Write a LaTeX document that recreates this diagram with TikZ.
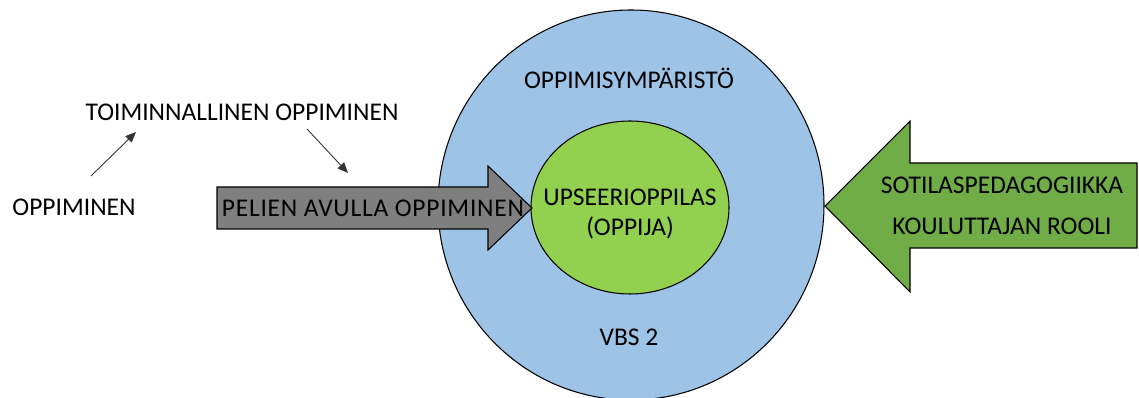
\documentclass[tikz,border=0pt]{standalone}
\usepackage{fontspec}
\setmainfont{Carlito}
\usetikzlibrary{arrows.meta}

\definecolor{envblue}{HTML}{9DC3E6}
\definecolor{learnergreen}{HTML}{92D050}
\definecolor{rolegreen}{HTML}{70AD47}
\definecolor{gamegray}{HTML}{7F7F7F}

\tikzset{
    label/.style={font=\fontsize{14.5}{17}\selectfont, inner sep=0pt},
    shapeline/.style={draw=black, line width=0.6pt},
    thin arrow/.style={draw=black!80, line width=0.5pt, -{Triangle[length=6pt, width=5pt]}}
}

\begin{document}
\begin{tikzpicture}[x=0.02cm, y=-0.02cm]

    \useasboundingbox (0, 0) rectangle (1139, 398);

    % learning environment and learner
    \draw[shapeline, fill=envblue] (631, 205) ellipse (193 and 195);
    \draw[shapeline, fill=learnergreen] (630, 207.5) ellipse (99 and 86.5);

    % block arrows
    \draw[shapeline, fill=gamegray] (217, 187) -- (488, 187) -- (488, 166) -- (532, 208)
        -- (488, 250) -- (488, 229) -- (217, 229) -- cycle;
    \draw[shapeline, fill=rolegreen] (1137, 163) -- (910, 163) -- (910, 121) -- (825, 206)
        -- (910, 292) -- (910, 248) -- (1137, 248) -- cycle;

    \node[label] (env) at (629, 78) {OPPIMISYMPÄRISTÖ};
    \node[label] (vbs) at (629, 337) {VBS 2};
    \node[label] (learner) at (630, 197) {UPSEERIOPPILAS};
    \node[label] (learner2) at (630, 228) {(OPPIJA)};
    \node[label] (games) at (373, 208) {\addfontfeature{LetterSpace=3}PELIEN AVULLA OPPIMINEN};
    \node[label] (pedagogy) at (1002, 185) {SOTILASPEDAGOGIIKKA};
    \node[label] (trainer) at (1002, 226) {KOULUTTAJAN ROOLI};

    \node[label] (learning) at (74, 207) {OPPIMINEN};
    \node[label] (functional) at (242, 112) {TOIMINNALLINEN OPPIMINEN};

    \coordinate (up start) at (91, 176);
    \coordinate (up end) at (136, 132);
    \coordinate (down start) at (307, 129);
    \coordinate (down end) at (348, 173);

    \draw[thin arrow] (up start) -- (up end);
    \draw[thin arrow] (down start) -- (down end);

\end{tikzpicture}
\end{document}
